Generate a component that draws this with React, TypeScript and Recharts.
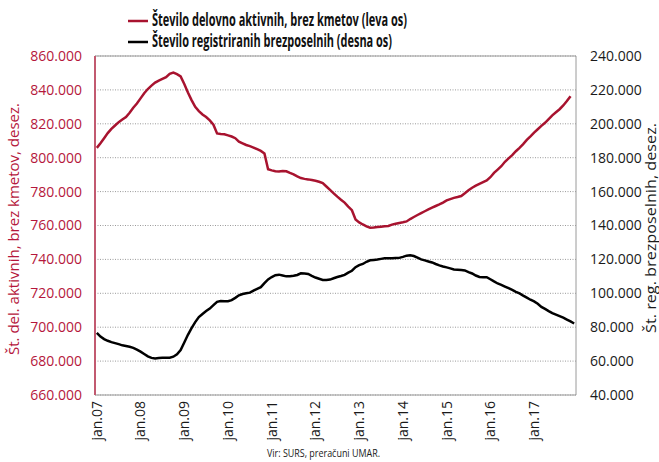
import { LineChart, Line, XAxis, YAxis, CartesianGrid, ReferenceLine } from 'recharts';

// monthly, jan.07 .. dec.17 (index 0 = jan.07)
const yearTicks = ['jan.07', 'jan.08', 'jan.09', 'jan.10', 'jan.11', 'jan.12', 'jan.13', 'jan.14', 'jan.15', 'jan.16', 'jan.17'];
const yearTickIndex = [0, 12, 24, 36, 48, 60, 72, 84, 96, 108, 120];

// Število delovno aktivnih, brez kmetov (thousands), jan.07 - nov.17
const employed = [
  805.8, 808.5, 811.5, 814.5, 817, 819, 821, 822.5, 824, 826.5,
  829.5, 832, 835, 838, 840.5, 842.5, 844.3, 845.5, 846.5, 847.5,
  849.5, 850.2, 849.3, 848, 843.5, 838.5, 834, 830, 827.5, 825.5,
  824, 822, 819.5, 814.3, 814, 813.8, 813.2, 812.5, 811.5, 809.5,
  808.5, 807.5, 806.8, 806, 805, 804, 802.5, 793.2, 792.5, 792,
  791.8, 792.2, 792, 791, 790.2, 789, 788, 787.5, 787.2, 786.8,
  786.4, 785.8, 785, 783, 781, 779, 777, 775.2, 773.5, 771.2,
  769, 763.5, 761.8, 760.6, 759.5, 758.7, 758.8, 759.1, 759.3, 759.5,
  759.7, 760.5, 761, 761.5, 761.9, 762.4, 763.8, 765, 766.2, 767.3,
  768.4, 769.5, 770.5, 771.5, 772.4, 773.5, 774.8, 775.6, 776.3, 776.8,
  777.4, 779, 780.8, 782.3, 783.5, 784.6, 785.6, 786.6, 788.5, 791,
  793, 795, 797.6, 799.6, 801.5, 803.8, 805.8, 808, 810.5, 812.6,
  814.8, 816.8, 818.8, 820.6, 822.8, 825, 826.8, 828.6, 830.8, 833.4,
  836.3,
];

// Število registriranih brezposelnih (thousands), jan.07 - dec.17
const unemployed = [
  76.7, 74.5, 73, 72, 71.2, 70.6, 70, 69.3, 68.9, 68.5,
  67.8, 66.8, 65.6, 64.2, 62.8, 61.9, 61.6, 61.8, 62, 62,
  62, 62.6, 64, 66.5, 71, 75.5, 79.5, 83, 86, 87.8,
  89.5, 91, 93, 95, 95.5, 95.3, 95.3, 96, 97.3, 98.8,
  99.6, 100, 100.4, 101.6, 102.6, 103.6, 106, 108.2, 109.6, 110.7,
  111, 110.5, 110, 110, 110.3, 110.8, 111.8, 111.7, 111.4, 110.3,
  109.3, 108.6, 107.9, 107.9, 108.1, 108.9, 109.6, 110.2, 110.9, 112.2,
  113.3, 115.4, 116.6, 117.3, 118.6, 119.5, 119.7, 119.9, 120.3, 120.7,
  120.7, 120.7, 120.8, 120.9, 121.5, 122.2, 122.4, 122, 121, 120,
  119.4, 118.8, 118.2, 117.3, 116.5, 115.8, 115.3, 114.7, 114.1, 113.9,
  113.7, 113.5, 112.5, 111.7, 110.5, 109.6, 109.5, 109.5, 108.3, 107,
  105.8, 105, 104, 103, 102, 100.9, 99.9, 98.6, 97.4, 96.2,
  95.2, 93.8, 92, 90.8, 89.5, 88.3, 87.4, 86.5, 85.6, 84.5,
  83.4, 82.2,
];

const leftTicks = [660, 680, 700, 720, 740, 760, 780, 800, 820, 840, 860];
const rightTicks = [40, 60, 80, 100, 120, 140, 160, 180, 200, 220, 240];

const data = unemployed.map((u, i) => ({
  idx: i,
  employed: i < employed.length ? employed[i] : null,
  unemployed: u,
}));

const RED = '#A8132F';
const RED_TEXT = '#B5173C';
const FONT = "'Open Sans', 'DejaVu Sans', sans-serif";

const fmt = (v: number) => `${v}.000`;

const XTick = ({ x, y, payload }: any) => {
  const label = yearTicks[yearTickIndex.indexOf(payload.value)];
  return (
    <text
      x={x}
      y={y}
      transform={`rotate(-90, ${x}, ${y})`}
      textAnchor="end"
      dy="0.35em"
      fontSize={14}
      fontFamily={FONT}
      fill="#1a1a1a"
    >
      {label}
    </text>
  );
};

export default function App() {
  return (
    <div style={{ position: 'absolute', left: 0, top: 0, width: 659, height: 462, background: '#fff' }}>
      <LineChart width={659} height={462} data={data} margin={{ top: 56, right: 8, bottom: 12, left: 10 }}>
        <CartesianGrid yAxisId="left" vertical={false} stroke="#9a9a9a" strokeDasharray="1 1.5" />
        <XAxis
          type="number"
          dataKey="idx"
          domain={[-0.5, 131.5]}
          ticks={yearTickIndex}
          interval={0}
          height={55}
          tickLine={false}
          tickMargin={0}
          axisLine={{ stroke: '#9a9a9a' }}
          tick={<XTick />}
        />
        <YAxis
          yAxisId="left"
          domain={[660, 860]}
          ticks={leftTicks}
          interval={0}
          width={85}
          tickFormatter={fmt}
          tickLine={false}
          tickMargin={7}
          axisLine={{ stroke: '#C25A70', strokeWidth: 2 }}
          tick={{ fontSize: 14, fill: RED_TEXT, fontFamily: FONT }}
        />
        <YAxis
          yAxisId="right"
          orientation="right"
          domain={[40, 240]}
          ticks={rightTicks}
          interval={0}
          width={75}
          tickFormatter={fmt}
          tickLine={false}
          tickMargin={8}
          axisLine={{ stroke: '#9a9a9a' }}
          tick={{ fontSize: 14, fill: '#1a1a1a', fontFamily: FONT }}
        />
        <ReferenceLine yAxisId="left" y={860} stroke="#9a9a9a" />
        <Line
          yAxisId="left"
          type="linear"
          dataKey="employed"
          stroke={RED}
          strokeWidth={2.5}
          dot={false}
          isAnimationActive={false}
          connectNulls={false}
        />
        <Line
          yAxisId="right"
          type="linear"
          dataKey="unemployed"
          stroke="#000"
          strokeWidth={2.5}
          dot={false}
          isAnimationActive={false}
        />
      </LineChart>
      <svg
        width={659}
        height={462}
        style={{ position: 'absolute', left: 0, top: 0, pointerEvents: 'none' }}
      >
        <line x1={128} x2={148} y1={21} y2={21} stroke={RED} strokeWidth={2.5} />
        <text
          x={152}
          y={26}
          fontSize={17}
          fontWeight="bold"
          fontFamily="'Open Sans', sans-serif"
          fill="#111"
          textLength={255}
          lengthAdjust="spacingAndGlyphs"
        >
          Število delovno aktivnih, brez kmetov (leva os)
        </text>
        <line x1={128} x2={148} y1={42} y2={42} stroke="#000" strokeWidth={2.5} />
        <text
          x={152}
          y={47}
          fontSize={17}
          fontWeight="bold"
          fontFamily="'Open Sans', sans-serif"
          fill="#111"
          textLength={240}
          lengthAdjust="spacingAndGlyphs"
        >
          Število registriranih brezposelnih (desna os)
        </text>
        <text
          transform="rotate(-90)"
          x={-229}
          y={19}
          textAnchor="middle"
          fontSize={14}
          fontFamily={FONT}
          fill={RED_TEXT}
          textLength={252}
          lengthAdjust="spacingAndGlyphs"
        >
          Št. del. aktivnih, brez kmetov, desez.
        </text>
        <text
          transform="rotate(-90)"
          x={-228}
          y={656}
          textAnchor="middle"
          fontSize={14}
          fontFamily={FONT}
          fill="#1a1a1a"
          textLength={210}
          lengthAdjust="spacingAndGlyphs"
        >
          Št. reg. brezposelnih, desez.
        </text>
        <text
          x={267}
          y={457}
          fontSize={11.5}
          fontFamily={FONT}
          fill="#1a1a1a"
          textLength={113}
          lengthAdjust="spacingAndGlyphs"
        >
          Vir: SURS, preračuni UMAR.
        </text>
      </svg>
    </div>
  );
}
